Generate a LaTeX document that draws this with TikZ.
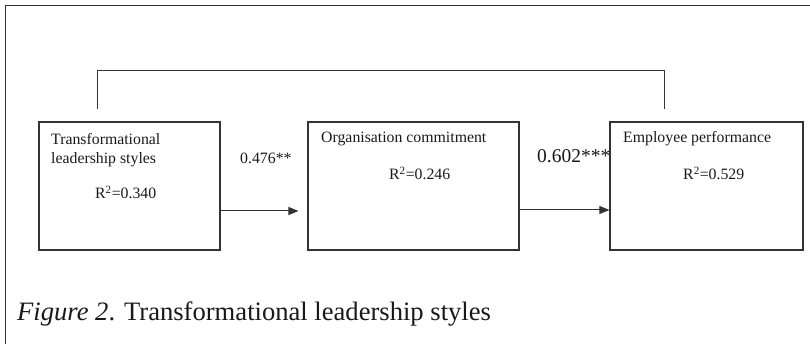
\documentclass[tikz,border=0pt]{standalone}
\usepackage{fontspec}
\setmainfont{Liberation Serif}
\usetikzlibrary{calc,arrows.meta}
\begin{document}
\begin{tikzpicture}[x=1pt,y=-1pt,
  boxst/.style={draw=black!80,line width=1.1pt,rectangle,inner sep=0pt,minimum height=128pt},
  lab/.style={anchor=base west,inner sep=0pt,font=\fontsize{15.8}{19}\selectfont,text=black!90},
  biglab/.style={anchor=base west,inner sep=0pt,font=\fontsize{19.5}{23}\selectfont,text=black!90},
  conn/.style={draw=black!80,line width=1pt},
  arr/.style={conn,-{Triangle[length=10pt,width=8pt]}}]
\useasboundingbox (0,0) rectangle (810,344);
% frame (top and left only)
\coordinate (ftr) at (810,6);
\coordinate (fc) at (5,6);
\coordinate (fbl) at (5,344);
\draw[conn] (ftr) -- (fc) -- (fbl);
% boxes
\node[boxst,minimum width=181pt] (b1) at (129.5,186) {};
\node[boxst,minimum width=211pt] (b2) at (413.5,186) {};
\node[boxst,minimum width=193pt] (b3) at (706.5,186) {};
% box texts
\node[lab] (t1a) at (51,145) {Transformational};
\node[lab] (t1b) at (51,164) {leadership styles};
\node[lab] (t1c) at (95,199) {R\textsuperscript{2}=0.340};
\node[lab] (t2a) at (321,143) {Organisation commitment};
\node[lab] (t2b) at (389,180) {R\textsuperscript{2}=0.246};
\node[lab] (t3a) at (623,143) {Employee performance};
\node[lab] (t3b) at (683,180) {R\textsuperscript{2}=0.529};
% path coefficients
\node[lab] (c1) at (240,164) {0.476**};
\node[biglab] (c2) at (537,163) {0.602***};
% arrows
\draw[arr,shorten >=9pt] ($(b1.east)+(0,25)$) -- ($(b2.west)+(0,25)$);
\draw[arr] ($(b2.east)+(0,24)$) -- ($(b3.west)+(0,24)$);
% top connector
\draw[conn] ($(b1.north west)+(59,-12)$) |- ($(b3.north west)+(55,-51)$) -- ($(b3.north west)+(55,-12)$);
% caption
\node[anchor=base west,inner sep=0pt,font=\fontsize{26.6}{30}\selectfont,text=black!90] (cap) at (17,320) {\textit{Figure 2}. Transformational leadership styles};
\end{tikzpicture}
\end{document}
